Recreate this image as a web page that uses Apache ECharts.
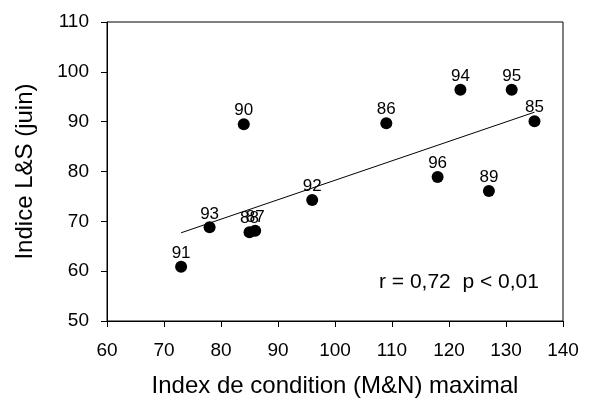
<!DOCTYPE html>
<html><head><meta charset="utf-8">
<script src="https://cdn.jsdelivr.net/npm/echarts@6/dist/echarts.min.js"></script>
<style>html,body{margin:0;padding:0;background:#fff}#c{width:594px;height:403px}</style>
</head><body><div id="c"></div>
<script>
var years = ['91','93','90','88','87','92','86','96','94','89','95','85'];
var xValues = [73, 78, 84, 85, 86, 96, 109, 118, 122, 127, 131, 135];
var yValues = [60.9, 68.8, 89.5, 67.8, 68.1, 74.3, 89.7, 78.9, 96.4, 76.1, 96.4, 90.1];
var trendX = [73, 135];
var trendY = [67.7, 91.9];
var xTicks = [60, 70, 80, 90, 100, 110, 120, 130, 140];
var yTicks = [50, 60, 70, 80, 90, 100, 110];
var statText = 'r = 0,72  p < 0,01';

var font = '"Liberation Sans", Arial, sans-serif';
var chart = echarts.init(document.getElementById('c'));
var pts = xValues.map(function (x, i) { return { value: [x, yValues[i]], name: years[i] }; });
chart.setOption({
  animation: false,
  grid: { left: 107, right: 31, top: 22, bottom: 82, show: true, borderColor: '#000', borderWidth: 1 },
  xAxis: {
    type: 'value', min: xTicks[0], max: xTicks[xTicks.length - 1], interval: 10,
    name: 'Index de condition (M&N) maximal', nameLocation: 'middle', nameGap: 53,
    nameTextStyle: { fontFamily: font, fontSize: 24, color: '#000' },
    axisLine: { lineStyle: { color: '#000', width: 1 } },
    axisTick: { show: true, length: 6, lineStyle: { color: '#000' } },
    axisLabel: { fontFamily: font, fontSize: 19, color: '#000', margin: 20 },
    splitLine: { show: false }
  },
  yAxis: {
    type: 'value', min: yTicks[0], max: yTicks[yTicks.length - 1], interval: 10,
    name: 'Indice L&S (juin)', nameLocation: 'middle', nameGap: 70, nameRotate: 90,
    nameTextStyle: { fontFamily: font, fontSize: 24, color: '#000' },
    axisLine: { show: true, lineStyle: { color: '#000', width: 1 } },
    axisTick: { show: true, length: 6, lineStyle: { color: '#000' } },
    axisLabel: { fontFamily: font, fontSize: 19, color: '#000', margin: 18 },
    splitLine: { show: false }
  },
  series: [
    {
      type: 'line', data: trendX.map(function (x, i) { return [x, trendY[i]]; }),
      showSymbol: false, symbol: 'none', lineStyle: { color: '#000', width: 1 }, z: 1
    },
    {
      type: 'scatter', data: pts, symbolSize: 12,
      itemStyle: { color: '#000', opacity: 1 },
      label: { show: true, position: 'top', distance: -1, formatter: '{b}', fontFamily: font, fontSize: 17, color: '#000' },
      z: 2
    }
  ],
  graphic: [{
    type: 'text', x: 379, y: 282,
    style: { text: statText, font: '21px ' + font, fill: '#000', verticalAlign: 'middle' }
  }]
});
</script></body></html>
